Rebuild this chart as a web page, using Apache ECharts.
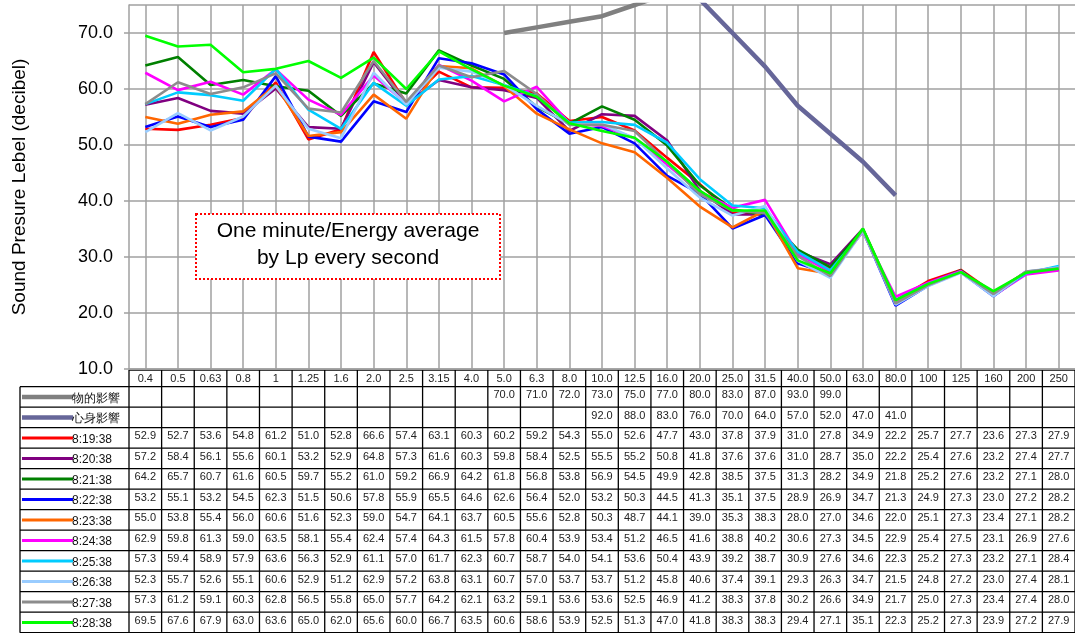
<!DOCTYPE html>
<html>
<head>
<meta charset="utf-8">
<style>
  html, body { margin: 0; padding: 0; background: #fff; }
  #chart { width: 1075px; height: 633px; }
</style>
<script src="https://cdn.jsdelivr.net/npm/echarts@6/dist/echarts.min.js"></script>
</head>
<body>
<div id="chart"></div>
<script>
// 1/3 octave band centre frequencies (Hz)
const categories = ['0.4', '0.5', '0.63', '0.8', '1', '1.25', '1.6', '2.0', '2.5', '3.15', '4.0', '5.0', '6.3', '8.0',
  '10.0', '12.5', '16.0', '20.0', '25.0', '31.5', '40.0', '50.0', '63.0', '80.0', '100', '125', '160', '200', '250'];

// reference curves
const physical = [null, null, null, null, null, null, null, null, null, null, null, 70.0, 71.0, 72.0,
  73.0, 75.0, 77.0, 80.0, 83.0, 87.0, 93.0, 99.0, null, null, null, null, null, null, null];
const mental = [null, null, null, null, null, null, null, null, null, null, null, null, null, null,
  92.0, 88.0, 83.0, 76.0, 70.0, 64.0, 57.0, 52.0, 47.0, 41.0, null, null, null, null, null];

// one minute energy averages
const m0819 = [52.9, 52.7, 53.6, 54.8, 61.2, 51.0, 52.8, 66.6, 57.4, 63.1, 60.3, 60.2, 59.2, 54.3, 55.0, 52.6, 47.7, 43.0, 37.8, 37.9, 31.0, 27.8, 34.9, 22.2, 25.7, 27.7, 23.6, 27.3, 27.9];
const m0820 = [57.2, 58.4, 56.1, 55.6, 60.1, 53.2, 52.9, 64.8, 57.3, 61.6, 60.3, 59.8, 58.4, 52.5, 55.5, 55.2, 50.8, 41.8, 37.6, 37.6, 31.0, 28.7, 35.0, 22.2, 25.4, 27.6, 23.2, 27.4, 27.7];
const m0821 = [64.2, 65.7, 60.7, 61.6, 60.5, 59.7, 55.2, 61.0, 59.2, 66.9, 64.2, 61.8, 56.8, 53.8, 56.9, 54.5, 49.9, 42.8, 38.5, 37.5, 31.3, 28.2, 34.9, 21.8, 25.2, 27.6, 23.2, 27.1, 28.0];
const m0822 = [53.2, 55.1, 53.2, 54.5, 62.3, 51.5, 50.6, 57.8, 55.9, 65.5, 64.6, 62.6, 56.4, 52.0, 53.2, 50.3, 44.5, 41.3, 35.1, 37.5, 28.9, 26.9, 34.7, 21.3, 24.9, 27.3, 23.0, 27.2, 28.2];
const m0823 = [55.0, 53.8, 55.4, 56.0, 60.6, 51.6, 52.3, 59.0, 54.7, 64.1, 63.7, 60.5, 55.6, 52.8, 50.3, 48.7, 44.1, 39.0, 35.3, 38.3, 28.0, 27.0, 34.6, 22.0, 25.1, 27.3, 23.4, 27.1, 28.2];
const m0824 = [62.9, 59.8, 61.3, 59.0, 63.5, 58.1, 55.4, 62.4, 57.4, 64.3, 61.5, 57.8, 60.4, 53.9, 53.4, 51.2, 46.5, 41.6, 38.8, 40.2, 30.6, 27.3, 34.5, 22.9, 25.4, 27.5, 23.1, 26.9, 27.6];
const m0825 = [57.3, 59.4, 58.9, 57.9, 63.6, 56.3, 52.9, 61.1, 57.0, 61.7, 62.3, 60.7, 58.7, 54.0, 54.1, 53.6, 50.4, 43.9, 39.2, 38.7, 30.9, 27.6, 34.6, 22.3, 25.2, 27.3, 23.2, 27.1, 28.4];
const m0826 = [52.3, 55.7, 52.6, 55.1, 60.6, 52.9, 51.2, 62.9, 57.2, 63.8, 63.1, 60.7, 57.0, 53.7, 53.7, 51.2, 45.8, 40.6, 37.4, 39.1, 29.3, 26.3, 34.7, 21.5, 24.8, 27.2, 23.0, 27.4, 28.1];
const m0827 = [57.3, 61.2, 59.1, 60.3, 62.8, 56.5, 55.8, 65.0, 57.7, 64.2, 62.1, 63.2, 59.1, 53.6, 53.6, 52.5, 46.9, 41.2, 38.3, 37.8, 30.2, 26.6, 34.9, 21.7, 25.0, 27.3, 23.4, 27.4, 28.0];
const m0828 = [69.5, 67.6, 67.9, 63.0, 63.6, 65.0, 62.0, 65.6, 60.0, 66.7, 63.5, 60.6, 58.6, 53.9, 52.5, 51.3, 47.0, 41.8, 38.3, 38.3, 29.4, 27.1, 35.1, 22.3, 25.2, 27.3, 23.9, 27.2, 27.9];

const seriesNames = ['物的影響', '心身影響', '8:19:38', '8:20:38', '8:21:38', '8:22:38', '8:23:38',
  '8:24:38', '8:25:38', '8:26:38', '8:27:38', '8:28:38'];
const seriesData = [physical, mental, m0819, m0820, m0821, m0822, m0823, m0824, m0825, m0826, m0827, m0828];

const yTicks = [10, 20, 30, 40, 50, 60, 70];

// styling
const colors = ['#808080', '#666699', '#FF0000', '#800080', '#008000', '#0000FF', '#FF6600',
  '#FF00FF', '#00CCFF', '#99CCFF', '#8C8C8C', '#00FF00'];
const widths = [4.5, 4.5, 2.6, 2.6, 2.6, 2.6, 2.6, 2.6, 2.6, 2.6, 2.6, 2.6];
const FONT = '"Liberation Sans", Arial, sans-serif';
const GRID_COLOR = '#A0A0A0';

// helper slots: boundary, band centre, boundary, ... (odd slots are the band centres)
const halfSlots = [''];
categories.forEach(c => { halfSlots.push(c, ''); });

const chart = echarts.init(document.getElementById('chart'));

// plot area geometry (also used for the data table)
const plotLeft = 129, plotRight = 1075, plotTop = 5, plotBottom = 369;
const colW = (plotRight - plotLeft) / categories.length;
const headTop = 370, headBottom = 386.7, rowH = 20.5;

function buildTable() {
  const els = [];
  const lineStyle = { stroke: '#000', lineWidth: 1.3 };
  const tableBottom = headBottom + rowH * seriesNames.length;

  // horizontal rules
  els.push({ type: 'line', shape: { x1: plotLeft, y1: headTop, x2: plotRight, y2: headTop }, style: lineStyle });
  for (let r = 0; r <= seriesNames.length; r++) {
    const y = headBottom + r * rowH;
    els.push({ type: 'line', shape: { x1: 20, y1: y, x2: plotRight, y2: y }, style: lineStyle });
  }
  // vertical rules
  els.push({ type: 'line', shape: { x1: 20, y1: headBottom, x2: 20, y2: tableBottom }, style: lineStyle });
  for (let c = 0; c <= categories.length; c++) {
    const x = plotLeft + c * colW;
    els.push({ type: 'line', shape: { x1: x, y1: headTop, x2: x, y2: tableBottom }, style: lineStyle });
  }
  // header: frequencies
  categories.forEach((cat, c) => {
    els.push({
      type: 'text', x: plotLeft + (c + 0.5) * colW, y: (headTop + headBottom) / 2 + 0.5,
      style: { text: cat, font: '11px ' + FONT, fill: '#222', align: 'center', verticalAlign: 'middle',
        textAlign: 'center', textVerticalAlign: 'middle' }
    });
  });
  // rows: legend key + values
  seriesNames.forEach((name, r) => {
    const cy = headBottom + (r + 0.5) * rowH;
    els.push({ type: 'line', shape: { x1: 22, y1: cy, x2: 73, y2: cy },
      style: { stroke: colors[r], lineWidth: r < 2 ? 4.5 : 3 } });
    els.push({
      type: 'text', x: 72, y: cy + 1.5,
      style: { text: name, font: '12px ' + FONT, fill: '#111', align: 'left', verticalAlign: 'middle',
        textAlign: 'left', textVerticalAlign: 'middle' }
    });
    seriesData[r].forEach((v, c) => {
      if (v == null) return;
      els.push({
        type: 'text', x: plotLeft + (c + 0.5) * colW, y: cy - 1.5,
        style: { text: v.toFixed(1), font: '11px ' + FONT, fill: '#222', align: 'center', verticalAlign: 'middle',
          textAlign: 'center', textVerticalAlign: 'middle' }
      });
    });
  });
  return els;
}

// annotation box (drawn above the grid lines)
const noteBox = {
  type: 'group',
  z: 100,
  children: [
    { type: 'rect', z: 100, shape: { x: 196, y: 214, width: 304, height: 65 },
      style: { fill: '#fff', stroke: '#FF0000', lineWidth: 2, lineDash: [2, 2] } },
    { type: 'text', z: 101, x: 348, y: 231,
      style: { text: 'One minute/Energy average', font: '21px ' + FONT, fill: '#000', align: 'center',
        verticalAlign: 'middle', textAlign: 'center', textVerticalAlign: 'middle' } },
    { type: 'text', z: 101, x: 348, y: 258,
      style: { text: 'by Lp every second', font: '21px ' + FONT, fill: '#000', align: 'center',
        verticalAlign: 'middle', textAlign: 'center', textVerticalAlign: 'middle' } }
  ]
};

const option = {
  animation: false,
  backgroundColor: '#fff',
  grid: {
    left: plotLeft, right: 1075 - plotRight, top: plotTop, bottom: 633 - plotBottom,
    containLabel: false, outerBoundsMode: 'none'
  },
  xAxis: [
    {
      type: 'category',
      data: categories,
      boundaryGap: true,
      axisLine: { show: true, lineStyle: { color: GRID_COLOR, width: 1.5 } },
      axisTick: { show: false },
      axisLabel: { show: false },
      splitLine: { show: false },
      splitArea: { show: false }
    },
    {
      // helper axis: only its split lines are drawn, at the band centres (Excel style grid)
      type: 'category',
      data: halfSlots,
      boundaryGap: false,
      position: 'bottom',
      axisLine: { show: false },
      axisTick: { show: false },
      axisLabel: { show: false },
      splitArea: { show: false },
      splitLine: {
        show: true,
        interval: idx => idx % 2 === 1,
        lineStyle: { color: GRID_COLOR, width: 1.5 }
      }
    }
  ],
  yAxis: {
    type: 'value',
    min: yTicks[0],
    max: 75,
    interval: 10,
    name: 'Sound Presure Lebel (decibel)',
    nameLocation: 'middle',
    nameGap: 100,
    nameTextStyle: { fontFamily: FONT, fontSize: 19, color: '#000' },
    axisLine: { show: true, lineStyle: { color: GRID_COLOR, width: 1.5 } },
    axisTick: { show: true, length: 5, lineStyle: { color: GRID_COLOR, width: 1.5 } },
    axisLabel: {
      fontFamily: FONT, fontSize: 18, color: '#000', margin: 16, showMaxLabel: false,
      formatter: v => (yTicks.indexOf(v) >= 0 ? v.toFixed(1) : '')
    },
    splitLine: { show: true, lineStyle: { color: GRID_COLOR, width: 1.5 } },
    splitArea: { show: false }
  },
  series: seriesNames.map((name, i) => ({
    name: name,
    type: 'line',
    xAxisIndex: 0,
    data: seriesData[i],
    symbol: 'none',
    clip: true,
    connectNulls: false,
    lineStyle: { color: colors[i], width: widths[i] },
    itemStyle: { color: colors[i] },
    z: 2 + i
  })),
  graphic: [
    { type: 'group', children: buildTable() },
    noteBox
  ]
};

chart.setOption(option);
</script>
</body>
</html>
